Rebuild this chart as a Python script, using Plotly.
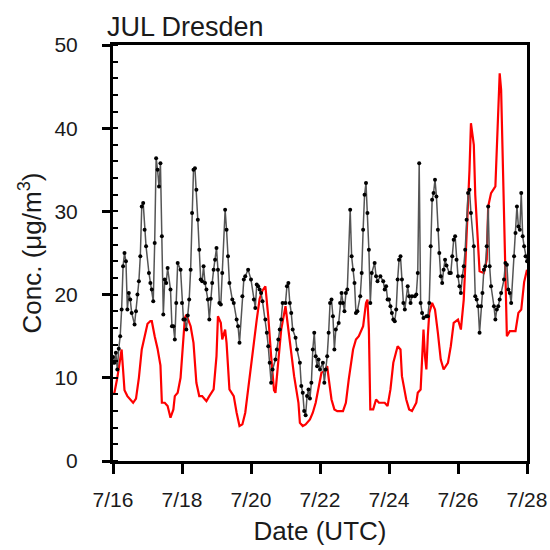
import datetime as dt
import plotly.graph_objects as go

# Observed (black) series: hours since 07-16 00 UTC, concentration
obs_hours = [0,1,2,3,4,5,6,7,8,9,10,11,12,13,15,16,17,18,19,20,21,22,23,25,26,27,28,29,30,31,32,33,34,35,36,37,38,40,41,42,43,44,45,47,48,49,
             50,51,52,53,54,55,56,57,58,59,60,61,62,63,64,65,66,67,68,69,70,71,72,73,74,75,76,78,79,80,81,83,84,86,87,88,90,91,92,94,96,98,99,
             100,101,102,103,104,106,107,108,109,110,111,113,114,115,116,117,118,120,121,122,123,124,125,127,128,130,131,132,133,134,135,136,137,138,139,140,141,142,
             143,144,146,147,148,149,150,151,152,153,154,155,157,158,159,160,161,162,163,165,166,167,168,169,170,172,173,174,175,176,177,178,179,180,182,183,184,186,188,189,190,191,192,193,194,195,196,197,198,199,200,201,202,203,205,206,207,208,210,211,212,213,214,215,216,218,219,220,221,222,223,224,225,226,227,228,229,230,231,232,234,235,236,237,
             238,239,240,241,242,243,244,245,246,247,248,249,251,252,253,254,255,256,257,258,259,260,261,262,263,265,266,267,268,269,270,272,273,274,275,276,277,279,280,281,282,283,284,285,286,287,288]
obs_vals = [12.5,11.8,13,11,13.5,15,18.2,23.4,25,24,18.2,20.2,19.4,17.8,16.4,18,20,21.6,24.6,30.6,31,27.8,25.8,22.6,21.4,20.6,19.2,26.2,36.4,35,33,35.8,27,17.6,21.8,21.4,23.2,20.6,16.2,16.2,14.6,19,23.8,23,19,17,
            17,15.8,17.5,19.4,23,29.8,35,35.2,32.6,29,25.4,21.8,21.6,23.4,21.4,20.6,19.4,17,19.5,21.4,23,24.2,25.6,23,19,18.8,22.6,30.2,27.8,24.6,21.4,19.4,19,17,16.2,14.2,19.8,21.8,22.2,23,21.8,19.4,18.4,
            21.2,21,20.6,20.2,19.2,17,15.4,13.8,11.8,9.4,11,12.2,13.4,14.6,15.8,17,19,19,21,21.4,19,17.8,15.8,14.8,13.4,11.8,9,8.2,6,5.5,7.8,8.6,7.5,9.4,13.4,15.4,12.6,11.4,
            12.2,11,11.8,9.4,11,12.6,15.4,19,19.4,17.4,13.4,15.8,16.6,19,20.2,19,18,20.2,20.6,30.2,24.6,23,21.4,17.8,18,19.8,22.6,27.8,32,33.4,29.8,25.4,19,22.6,23.8,22.2,21.6,22.2,21.6,20.6,21,19.4,19.4,18.6,17.8,17,16.8,18.2,21.8,24.2,24.6,21.8,19,18.2,21,19.8,19,19.8,19.8,20,22.6,35.8,19,17.8,17.2,17.4,17.4,19,25.8,31.4,32.2,33.8,31.8,27.8,25,22.2,21.4,23,24.2,23.5,22.6,22.6,24.6,26.6,
            27,24.2,22.2,21,20.2,22.2,23.4,25.4,29,32.2,32.6,29.8,25.8,19.8,19.4,18.6,15.4,18.6,20.2,23,23.4,25.8,30.6,23.4,21,18.6,17,18.2,18.6,19.4,20.2,21.8,23.8,23.6,20.6,20.2,19,24.6,27.4,30.6,28.2,27.8,32.2,27,25.8,24.6,24]

# Model (red) series
mod_hours = [0,1,3,5,6,7,8,10,12,14,16,18,20,22,24,26,27,29,31,33,34,36,38,40,42,43,45,47,48,50,51,53,54,56,58,60,62,64,65,67,69,70,72,73,75,76,78,79,81,84,86,88,90,92,94,96,98,
             100,102,104,106,107,108,110,112,113,115,117,120,122,124,126,129,130,132,134,137,139,141,143,145,147,149,150,152,154,156,160,162,164,167,169,171,174,176,177,178,179,181,183,185,189,191,193,195,198,200,201,204,206,208,211,212,214,215,216,217,218,219,220,222,224,226,228,230,233,235,237,240,242,244,246,248,249,251,252,254,255,258,260,261,263,266,268,269,270,272,273,274,276,280,282,284,286,288]
mod_vals = [8,8.2,10,12.5,13.4,11,8.5,7.8,7.4,7,7.5,10,13.4,15,16.5,16.8,16.8,15,13.5,11.5,7,7,6.6,5.2,6.2,7.8,8.2,10,12.6,17.2,17.6,16.5,16.2,14.2,9.4,7.8,7.8,7.4,7.2,7.8,8.4,8.6,12.6,17.4,16.6,14.6,15.8,14.2,8.6,7.8,5.8,4.2,4.4,5.8,8.6,11.5,14.5,
            17,19.5,20.5,21,19.5,17.4,12.6,8.5,8.2,11.8,15.8,18.6,15.8,12.6,10.2,7,4.6,4.2,4.4,5,5.8,7,9,10.6,10.8,11.4,10,7.4,6.2,6,6,7,9.8,13.4,14.6,15,16.2,19,19.4,15.8,6.2,6.2,7.4,7,7,6.6,8.6,11.8,13.8,13.4,10.2,7.4,6.2,6,7,8.2,8.6,11.8,15.8,12.6,11,15,17.8,19,18.2,15.4,12.2,11,11.8,13.8,16.6,17,15.8,19.4,26.6,35,40.6,38,32,25,22.8,22.6,24.2,30.6,32.2,33,42.2,46.6,44.6,30,25,15,15.6,15.6,17.8,18.2,21.5,23]

base = dt.datetime(2013, 7, 16)
obs_x = [base + dt.timedelta(hours=h) for h in obs_hours]
mod_x = [base + dt.timedelta(hours=h) for h in mod_hours]

tick_dates = [base + dt.timedelta(days=d) for d in range(0, 13, 2)]
tick_text = ["7/16", "7/18", "7/20", "7/22", "7/24", "7/26", "7/28"]
y_ticks = [0, 10, 20, 30, 40, 50]

font = "Liberation Sans, Arial, Helvetica, sans-serif"
txt = "#1a1a1a"

fig = go.Figure()
fig.add_trace(go.Scatter(x=mod_x, y=mod_vals, mode="lines",
                         line=dict(color="#ff0000", width=2.2), showlegend=False))
fig.add_trace(go.Scatter(x=obs_x, y=obs_vals, mode="lines+markers",
                         line=dict(color="#555555", width=1.5),
                         marker=dict(color="black", size=4), showlegend=False))

fig.update_layout(
    width=550, height=550,
    margin=dict(l=113, r=23, t=45, b=89, autoexpand=False),
    paper_bgcolor="white", plot_bgcolor="white",
    font=dict(family=font, color=txt, size=21),
    title=dict(text="JUL Dresden", xref="container", yref="container",
               x=107 / 550, xanchor="left", y=1 - 36 / 550, yanchor="bottom",
               pad=dict(t=0, b=0, l=0, r=0),
               font=dict(size=27, family=font, color=txt)),
)
fig.update_xaxes(
    type="date", range=[base, base + dt.timedelta(days=12)],
    tickvals=tick_dates, ticktext=tick_text, automargin=False,
    showgrid=False, zeroline=False,
    showline=True, linecolor="black", linewidth=3, mirror=True,
    ticks="outside", ticklen=10, tickwidth=2.5, tickcolor="black",
    ticklabelstandoff=8,
    tickfont=dict(size=21, color=txt),
    title=dict(text="Date (UTC)", font=dict(size=26, color=txt), standoff=12),
)
fig.update_yaxes(
    range=[0, 50], tickvals=y_ticks, automargin=False,
    showgrid=False, zeroline=False,
    showline=True, linecolor="black", linewidth=3, mirror=True,
    ticks="outside", ticklen=8, tickwidth=2.5, tickcolor="black",
    ticklabelstandoff=20,
    minor=dict(ticks="inside", dtick=2, ticklen=5, tickwidth=1.5, tickcolor="black", showgrid=False),
    tickfont=dict(size=21, color=txt),
    title=dict(text="Conc. (μg/m<sup>3</sup>)", font=dict(size=26, color=txt), standoff=6),
)

fig.write_html("out.html")
